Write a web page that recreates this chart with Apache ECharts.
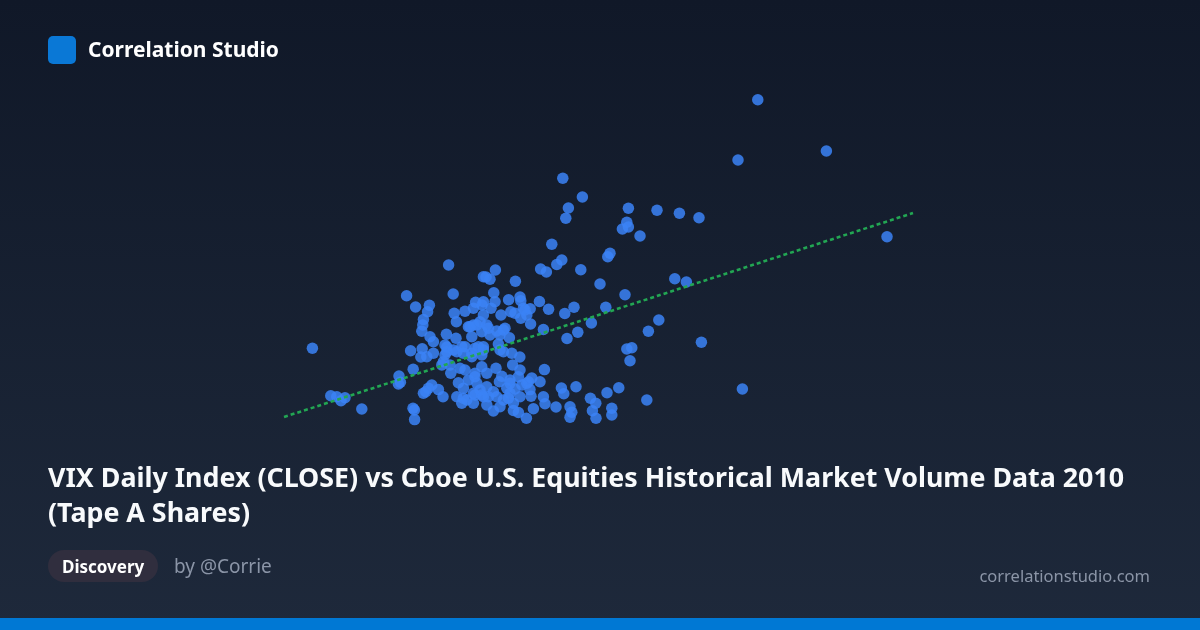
<!DOCTYPE html>
<html>
<head>
<meta charset="utf-8">
<script src="https://cdn.jsdelivr.net/npm/echarts@6/dist/echarts.min.js"></script>
<style>
html,body{margin:0;padding:0;background:#111827;}
#chart{width:1200px;height:630px;}
</style>
</head>
<body>
<div id="chart"></div>
<script>
// VIX daily close (x) vs Tape A volume, millions of shares (y)
const vix = [37.89,36.90,41.32,44.35,28.14,29.12,28.42,28.29,31.42,32.85,33.97,34.95,31.34,31.12,31.42,32.00,27.59,30.50,30.39,28.09,27.84,27.03,27.32,29.04,24.77,24.30,24.50,25.77,30.00,31.25,33.74,34.32,32.94,32.42,35.07,37.12,32.34,22.43,24.17,20.33,22.66,20.78,21.47,21.38,21.17,21.14,21.09,22.71,22.82,23.25,23.67,23.78,22.32,22.80,23.42,23.67,21.50,21.67,23.59,24.09,15.62,20.53,21.11,21.04,21.34,21.67,22.25,22.34,22.34,22.67,22.84,23.09,23.25,23.59,23.92,22.17,22.09,22.25,22.50,22.54,23.00,23.25,23.75,24.09,20.66,19.95,20.02,19.92,16.54,16.84,17.05,17.25,18.09,21.29,21.42,21.59,21.92,22.15,21.17,20.65,20.72,20.73,22.84,23.17,23.09,23.67,23.75,22.92,23.42,23.84,23.34,24.09,24.69,25.43,26.00,26.04,26.97,24.10,24.17,24.75,24.55,25.05,25.54,25.75,26.25,26.51,26.17,26.04,26.34,26.53,27.43,28.24,28.70,30.29,29.57,27.17,28.89,28.35,23.50,23.84,24.42,24.84,25.17,25.25,25.47,24.17,24.00,24.34,24.50,25.00,23.75,24.17,23.59,24.09,23.17,24.17,24.92,25.00,25.17,25.59,25.99,25.63,31.34,31.59,31.50,24.80,25.09,24.34,23.75,27.22,26.00,25.92,26.59,27.00,26.42,26.34,25.50,25.50,24.97,23.17,23.67,24.00,24.42,24.34,24.67,25.34,24.84,25.17,25.50,25.75,26.09,26.50,26.55,25.67,24.67,25.00,24.17,25.42,26.00,24.34,28.07,28.19,28.80,30.35,30.94,29.52,29.79,27.17,27.25,27.80,28.50,28.59,28.50,29.62,29.80,30.59,30.59,25.67,25.92,26.32,26.67];
const volume = [5303,4700,4790,3933,4517,4330,4220,4117,4217,4197,4167,4123,4077,4010,4030,3940,3857,3767,3733,3700,3655,3610,3580,3603,3600,3530,3507,3487,3460,3353,3513,3480,3100,2987,2877,2410,2300,3650,3533,3343,3360,3230,3247,3183,3105,3050,2987,3167,3083,3187,3217,3278,2958,2917,3033,3050,2933,2883,2933,2983,2817,2793,2813,2730,2733,2767,2850,2830,2783,2800,2783,2833,2833,2767,2833,2683,2650,2750,2650,2567,2617,2600,2567,2633,2607,2540,2478,2460,2343,2333,2293,2323,2210,2383,2417,2450,2404,2333,2367,2217,2200,2104,2333,2317,2267,2267,2350,2473,2500,2467,2300,2350,3373,3303,3330,3293,3285,3250,3283,3283,3217,3150,3183,3167,3200,3213,3217,3117,3150,3060,3208,3165,3227,3227,3070,3005,2977,2915,3033,3050,3017,2990,3000,3017,2922,3150,3083,3050,2950,2950,2817,2800,2733,2750,2767,2833,2860,2800,2783,2767,2730,2650,2810,2823,2693,2617,2537,2567,2533,2604,2600,2533,2520,2483,2483,2467,2467,2500,2483,2417,2367,2400,2333,2433,2383,2417,2333,2300,2367,2410,2450,2404,2337,2267,2190,2233,2333,2317,2333,2250,2420,2363,2433,2373,2423,2317,2267,2333,2263,2230,2233,2177,2127,2193,2117,2217,2150,2195,2175,2117,2213];
const trendX = [14.20, 45.65];
const trendY = [2130, 4170];

const title = 'VIX Daily Index (CLOSE) vs Cboe U.S. Equities Historical Market Volume Data 2010\n(Tape A Shares)';
const brand = 'Correlation Studio';
const tag = 'Discovery';
const author = 'by @Corrie';
const site = 'correlationstudio.com';

const points = vix.map((v, i) => [v, volume[i]]);
const trend = trendX.map((v, i) => [v, trendY[i]]);

const chart = echarts.init(document.getElementById('chart'), null, {renderer: 'canvas'});
const FONT = '"Noto Sans", "Open Sans", sans-serif';
chart.setOption({
  animation: false,
  backgroundColor: {
    type: 'linear', x: 0, y: 0, x2: 0, y2: 1,
    colorStops: [{offset: 0, color: '#101828'}, {offset: 1, color: '#1e293b'}]
  },
  grid: {left: 280, right: 280, top: 90, bottom: 200},
  xAxis: {type: 'value', min: 14, max: 46, show: false},
  yAxis: {type: 'value', min: 2000, max: 5400, show: false},
  series: [
    {
      type: 'scatter',
      data: points,
      symbolSize: 11.5,
      itemStyle: {color: '#3b82f6', opacity: 0.85},
      z: 2
    },
    {
      type: 'line',
      data: trend,
      symbol: 'none',
      lineStyle: {color: '#22a653', width: 2.6, type: [4, 3]},
      z: 3
    }
  ],
  graphic: [
    {type: 'rect', left: 48, top: 36, shape: {width: 28, height: 28, r: 5}, style: {fill: '#0a78d6'}},
    {type: 'text', left: 88, top: 38, style: {text: brand, fill: '#ffffff', font: 'bold 21px ' + FONT, lineHeight: 26}},
    {type: 'text', left: 48, top: 462, style: {text: title, fill: '#f8fafc', font: 'bold 26.8px ' + FONT, lineHeight: 35}},
    {type: 'rect', left: 48, top: 550, shape: {width: 110, height: 32, r: 16}, style: {fill: '#302e3e'}},
    {type: 'text', left: 62, top: 557, style: {text: tag, fill: '#ffffff', font: 'bold 17px ' + FONT, lineHeight: 22}},
    {type: 'text', left: 174, top: 556, style: {text: author, fill: '#8b95a7', font: '19px ' + FONT, lineHeight: 24}},
    {type: 'text', right: 50, top: 565, style: {text: site, fill: '#8b95a7', font: '16.5px ' + FONT, lineHeight: 24}},
    {type: 'rect', left: 0, top: 618, shape: {width: 1200, height: 12}, style: {fill: '#0078d4'}}
  ]
});
</script>
</body>
</html>
